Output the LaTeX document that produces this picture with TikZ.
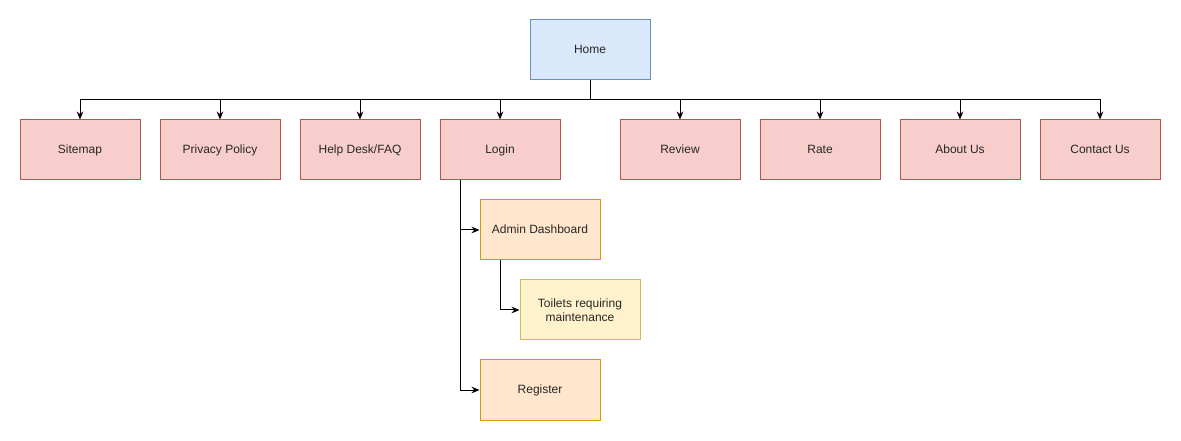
\documentclass[tikz,border=0pt]{standalone}
\usepackage{fontspec}
\setmainfont{Liberation Sans}
\usetikzlibrary{arrows.meta}

\definecolor{homefill}{HTML}{DAE8FC}
\definecolor{homeline}{HTML}{6C8EBF}
\definecolor{pagefill}{HTML}{F8CECC}
\definecolor{pageline}{HTML}{B85450}
\definecolor{subfill}{HTML}{FFE6CC}
\definecolor{subline}{HTML}{D79B00}
\definecolor{leaffill}{HTML}{FFF2CC}
\definecolor{leafline}{HTML}{D6B656}

\begin{document}
\begin{tikzpicture}[x=0.75pt, y=-0.75pt,
        box/.style={draw, line width=0.75pt, minimum width=90pt, minimum height=45pt,
            inner sep=0pt, align=center, font=\fontsize{9}{10.5}\selectfont, text=black!85},
        oneline/.style={text height=6.5pt, text depth=1.5pt},
        homebox/.style={box, oneline, fill=homefill, draw=homeline},
        pagebox/.style={box, oneline, fill=pagefill, draw=pageline},
        subbox/.style={box, oneline, fill=subfill, draw=subline},
        leafbox/.style={box, fill=leaffill, draw=leafline},
        link/.style={-{Stealth[length=6pt, width=5pt]}, line width=0.75pt}]
        \useasboundingbox (0, 0) rectangle (1181, 441);

        \node[homebox] (home) at (590, 50) {Home};

        \node[pagebox] (sitemap) at (80, 150) {Sitemap};
        \node[pagebox] (privacy) at (220, 150) {Privacy Policy};
        \node[pagebox] (helpdesk) at (360, 150) {Help Desk/FAQ};
        \node[pagebox] (login) at (500, 150) {Login};
        \node[pagebox] (review) at (680, 150) {Review};
        \node[pagebox] (rate) at (820, 150) {Rate};
        \node[pagebox] (about) at (960, 150) {About Us};
        \node[pagebox] (contact) at (1100, 150) {Contact Us};

        \node[subbox] (admin) at (540, 230) {Admin Dashboard};
        \node[leafbox] (toilets) at (580, 310) {Toilets requiring\\maintenance};
        \node[subbox] (register) at (540, 390) {Register};

        \coordinate (hub) at (590, 100);
        \coordinate (loginjoint) at (460, 180);
        \coordinate (adminjoint) at (500, 260);

        \draw[line width=0.75pt] (home.south) -- (hub);
        \foreach \page in {sitemap, privacy, helpdesk, login, review, rate, about, contact}
            \draw[link] (hub) -| (\page.north);

        \draw[link] (loginjoint) |- (admin.west);
        \draw[link] (loginjoint) |- (register.west);
        \draw[link] (adminjoint) |- (toilets.west);
    \end{tikzpicture}
\end{document}
